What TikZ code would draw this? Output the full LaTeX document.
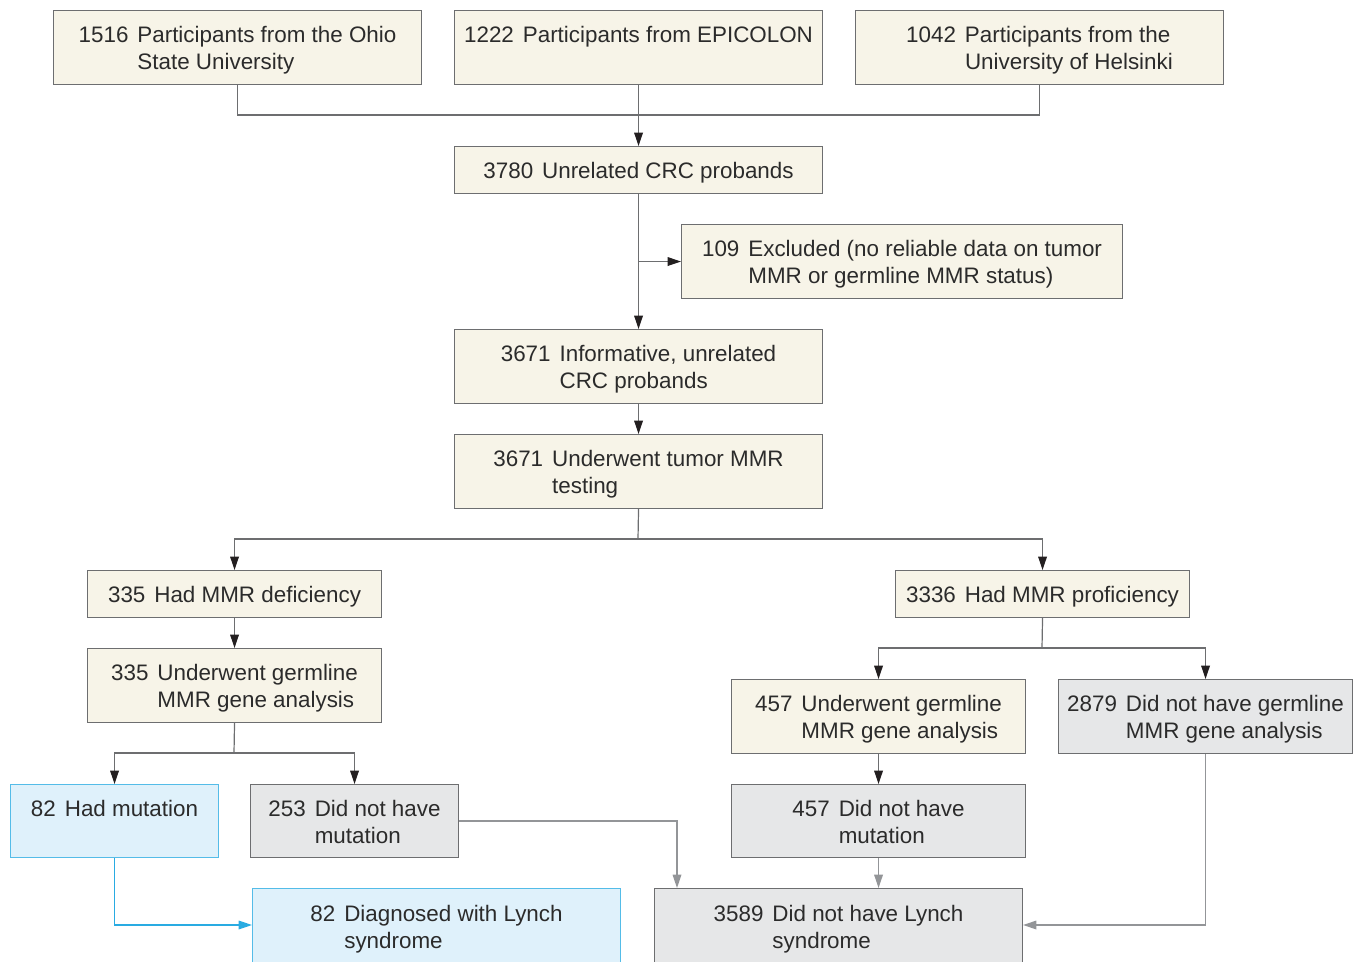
\documentclass[tikz,border=0pt]{standalone}
\usepackage{fontspec}
\setmainfont{Liberation Sans}
\usetikzlibrary{arrows.meta}
\definecolor{beige}{HTML}{F7F4E8}
\definecolor{bordergray}{HTML}{6D6E70}
\definecolor{lightgray}{HTML}{E6E7E8}
\definecolor{lightblue}{HTML}{DFF1FB}
\definecolor{bluec}{HTML}{29ABE2}
\definecolor{grayc}{HTML}{939598}
\definecolor{txt}{HTML}{2B2B2B}
\definecolor{linec}{HTML}{6D6E70}
\definecolor{tipc}{HTML}{231F20}
\newcommand\lowr[1]{\raisebox{-2.4pt}[\height][\depth]{#1}}
\newcommand\ent[3]{\lowr{\begin{tabular}{@{}l@{\hspace{0.4em}}l@{}}#1 & #2\\ & #3\end{tabular}}}
\newcommand\entone[2]{\lowr{\begin{tabular}{@{}l@{\hspace{0.4em}}l@{}}#1 & #2\end{tabular}}}
\begin{document}
\begin{tikzpicture}[x=0.75pt,y=-0.75pt,
  box/.style={draw=bordergray,line width=0.8pt,fill=beige,inner sep=0pt,anchor=north west,
    text=txt,font=\fontsize{16.8}{20.25}\selectfont,align=center},
  graybox/.style={box,fill=lightgray},
  bluebox/.style={box,fill=lightblue,draw=bluec!80},
  wide/.style={minimum width=276pt},
  mid/.style={minimum width=220.5pt},
  small/.style={minimum width=156pt},
  tall/.style={minimum height=55.5pt},
  short/.style={minimum height=35.25pt},
  conn/.style={draw=linec,line width=0.9pt},
  arr/.style={conn,-{Triangle[length=10pt,width=6.5pt,color=tipc]}},
  garr/.style={draw=grayc,line width=0.9pt,-{Triangle[length=10pt,width=6.5pt]}},
  barr/.style={draw=bluec,line width=0.9pt,-{Triangle[length=10pt,width=6.5pt]}}
]
\useasboundingbox (0,0) rectangle (1360,962);
\clip (0,0) rectangle (1360,962);

\node[box,wide,tall] (A) at (53,10) {\ent{1516}{Participants from the Ohio}{State University}};
\node[box,wide,tall] (B) at (454,10) {\ent{1222}{Participants from EPICOLON}{}};
\node[box,wide,tall] (C) at (855,10) {\ent{1042}{Participants from the}{University of Helsinki}};
\node[box,wide,short] (D) at (454,146) {\entone{3780}{Unrelated CRC probands}};
\node[box,minimum width=330.75pt,tall] (E) at (681,224) {\ent{109}{Excluded (no reliable data on tumor}{MMR or germline MMR status)}};
\node[box,wide,tall] (F) at (454,329) {\ent{3671}{Informative, unrelated}{CRC probands}};
\node[box,wide,tall] (G) at (454,434) {\ent{3671}{Underwent tumor MMR}{testing}};
\node[box,mid,short] (H) at (87,570) {\entone{335}{Had MMR deficiency}};
\node[box,mid,short] (I) at (895,570) {\entone{3336}{Had MMR proficiency}};
\node[box,mid,tall] (J) at (87,648) {\ent{335}{Underwent germline}{MMR gene analysis}};
\node[box,mid,tall] (M) at (731,679) {\ent{457}{Underwent germline}{MMR gene analysis}};
\node[graybox,mid,tall] (N) at (1058,679) {\ent{2879}{Did not have germline}{MMR gene analysis}};
\node[bluebox,small,minimum height=54.75pt] (K) at (10,784) {\ent{82}{Had mutation}{}};
\node[graybox,small,minimum height=54.75pt] (L) at (250,784) {\ent{253}{Did not have}{mutation}};
\node[graybox,mid,minimum height=54.75pt] (O) at (731,784) {\ent{457}{Did not have}{mutation}};
\node[bluebox,wide,minimum height=57pt] (P) at (252,888) {\ent{82}{Diagnosed with Lynch}{syndrome}};
\node[graybox,wide,minimum height=57pt] (Q) at (654,888) {\ent{3589}{Did not have Lynch}{syndrome}};

\coordinate (j1) at (638,115);
\coordinate (j2) at (638,539);
\coordinate (j3) at (234,753);
\coordinate (j4) at (1042,648);
\coordinate (qy) at (0,925);

\draw[conn] (A.south) |- (j1);
\draw[conn] (C.south) |- (j1);
\draw[arr] (B.south) -- (D.north);
\draw[arr] (D.south) -- (F.north);
\draw[arr] (D.south |- E.west) -- (E.west);
\draw[arr] (F.south) -- (G.north);
\draw[conn] (G.south) -- (j2);
\draw[arr] (j2) -| (H.north);
\draw[arr] (j2) -| (I.north);
\draw[arr] (H.south) -- (J.north);
\draw[conn] (J.south) -- (j3);
\draw[arr] (j3) -| (K.north);
\draw[arr] (j3) -| (L.north);
\draw[conn] (I.south) -- (j4);
\draw[arr] (j4) -| (M.north);
\draw[arr] (j4) -| (N.north);
\draw[arr] (M.south) -- (O.north);
\draw[garr] (O.south) -- (O.south |- Q.north);
\draw[garr] (L.east) -| ([xshift=17.25pt]Q.north west);
\draw[garr] (N.south) |- (Q.east |- qy);
\draw[barr] (K.south) |- (P.west |- qy);
\end{tikzpicture}
\end{document}
